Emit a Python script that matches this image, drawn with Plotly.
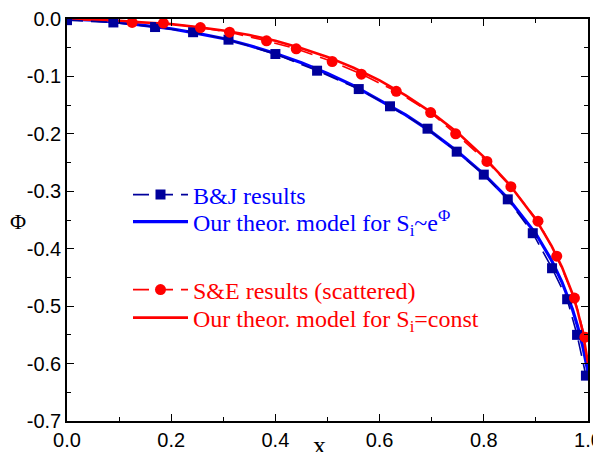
import plotly.graph_objects as go

# B&J results (squares)
bj_x = [0.0, 0.089, 0.169, 0.242, 0.31, 0.40, 0.48, 0.56, 0.62, 0.692, 0.748, 0.80, 0.846, 0.894, 0.931, 0.96, 0.979, 0.996]
bj_y = [-0.002, -0.006, -0.014, -0.023, -0.036, -0.061, -0.090, -0.122, -0.152, -0.191, -0.231, -0.271, -0.314, -0.373, -0.434, -0.488, -0.55, -0.621]

# S&E results (circles)
se_x = [0.125, 0.185, 0.256, 0.312, 0.383, 0.44, 0.509, 0.565, 0.632, 0.698, 0.746, 0.806, 0.852, 0.904, 0.94, 0.974, 0.994]
se_y = [-0.006, -0.007, -0.015, -0.023, -0.038, -0.052, -0.074, -0.096, -0.126, -0.163, -0.200, -0.248, -0.292, -0.352, -0.413, -0.486, -0.554]

# Theoretical model curves
th_x = [0, 0.05, 0.1, 0.15, 0.2, 0.25, 0.3, 0.35, 0.4, 0.45, 0.5, 0.55, 0.6, 0.65, 0.7, 0.75, 0.8, 0.85, 0.9, 0.93, 0.95, 0.97, 0.98, 0.99, 1.0]
th_blue_y = [0, -0.002, -0.006, -0.011, -0.017, -0.025, -0.034, -0.046, -0.060, -0.076, -0.095, -0.116, -0.141, -0.167, -0.197, -0.231, -0.270, -0.316, -0.374, -0.420, -0.458, -0.505, -0.535, -0.570, -0.615]
th_red_y = [0, -0.001, -0.003, -0.006, -0.009, -0.014, -0.020, -0.028, -0.038, -0.051, -0.066, -0.085, -0.107, -0.133, -0.163, -0.198, -0.240, -0.289, -0.349, -0.395, -0.432, -0.478, -0.508, -0.545, -0.600]

x_tickvals = [0.0, 0.2, 0.4, 0.6, 0.8, 1.0]
x_ticktext = ["0.0", "0.2", "0.4", "0.6", "0.8", "1.0"]
y_tickvals = [0.0, -0.1, -0.2, -0.3, -0.4, -0.5, -0.6, -0.7]
y_ticktext = ["0.0", "-0.1", "-0.2", "-0.3", "-0.4", "-0.5", "-0.6", "-0.7"]

NAVY = "#00009C"
BLUE = "#0000FF"
RED = "#FF0000"

fig = go.Figure()
fig.add_trace(go.Scatter(x=th_x, y=th_blue_y, mode="lines", line=dict(color=BLUE, width=3.2),
                         name="Our theor. model for S<sub>i</sub>~e<sup>Φ</sup>", legend="legend2"))
fig.add_trace(go.Scatter(x=th_x, y=th_red_y, mode="lines", line=dict(color=RED, width=2.6),
                         name="Our theor. model for S<sub>i</sub>=const", legend="legend4"))
fig.add_trace(go.Scatter(x=bj_x, y=bj_y, mode="lines+markers",
                         line=dict(color=NAVY, width=1.6, dash="16px,8px"),
                         marker=dict(symbol="square", size=10, color=NAVY),
                         name="B&J results", legend="legend", showlegend=True))
fig.add_trace(go.Scatter(x=se_x, y=se_y, mode="lines+markers",
                         line=dict(color=RED, width=1.6, dash="16px,8px"),
                         marker=dict(symbol="circle", size=11, color=RED),
                         name="S&E results (scattered)", legend="legend3"))

def leg(ycenter, color):
    return dict(xref="paper", yref="paper", x=(128 - 67) / 521, y=(421 - ycenter) / 402,
                xanchor="left", yanchor="middle", bgcolor="rgba(0,0,0,0)", borderwidth=0,
                itemwidth=55, font=dict(family="Liberation Serif", size=24, color=color))

axis_common = dict(showline=True, linecolor="black", linewidth=1.6, mirror="ticks",
                   ticks="inside", ticklen=7, tickwidth=1.4, tickcolor="black",
                   showgrid=False, zeroline=False, automargin=False,
                   ticklabeloverflow="allow",
                   tickfont=dict(family="Liberation Sans", size=20, color="black"))

# page body adds an 8px offset, so the figure is 8px smaller and margins shifted
fig.update_layout(
    width=593, height=444,
    showlegend=True,
    margin=dict(l=59, r=13, t=11, b=31),
    plot_bgcolor="white", paper_bgcolor="white",
    legend=leg(195, BLUE), legend2=leg(222, BLUE),
    legend3=leg(290, RED), legend4=leg(318, RED),
    xaxis=dict(range=[0, 1], tickmode="array", tickvals=x_tickvals, ticktext=x_ticktext,
               minor=dict(dtick=0.1, tick0=0, ticks="inside", ticklen=4, tickwidth=1.2, tickcolor="black"),
               **axis_common),
    yaxis=dict(range=[-0.7, 0], tickmode="array", tickvals=y_tickvals, ticktext=y_ticktext,
               minor=dict(dtick=0.05, tick0=0, ticks="inside", ticklen=4, tickwidth=1.2, tickcolor="black"),
               **axis_common),
    annotations=[
        dict(text="x", xref="paper", yref="paper", x=(319 - 67) / 521, y=0, yshift=-8,
             xanchor="center", yanchor="top", showarrow=False,
             font=dict(family="Liberation Serif", size=26, color="black")),
        dict(text="Φ", xref="paper", yref="paper", x=(18 - 67) / 521, y=(421 - 221) / 402,
             xanchor="center", yanchor="middle", showarrow=False,
             font=dict(family="Liberation Serif", size=22, color="black")),
    ],
)

fig.write_html("out.html")
